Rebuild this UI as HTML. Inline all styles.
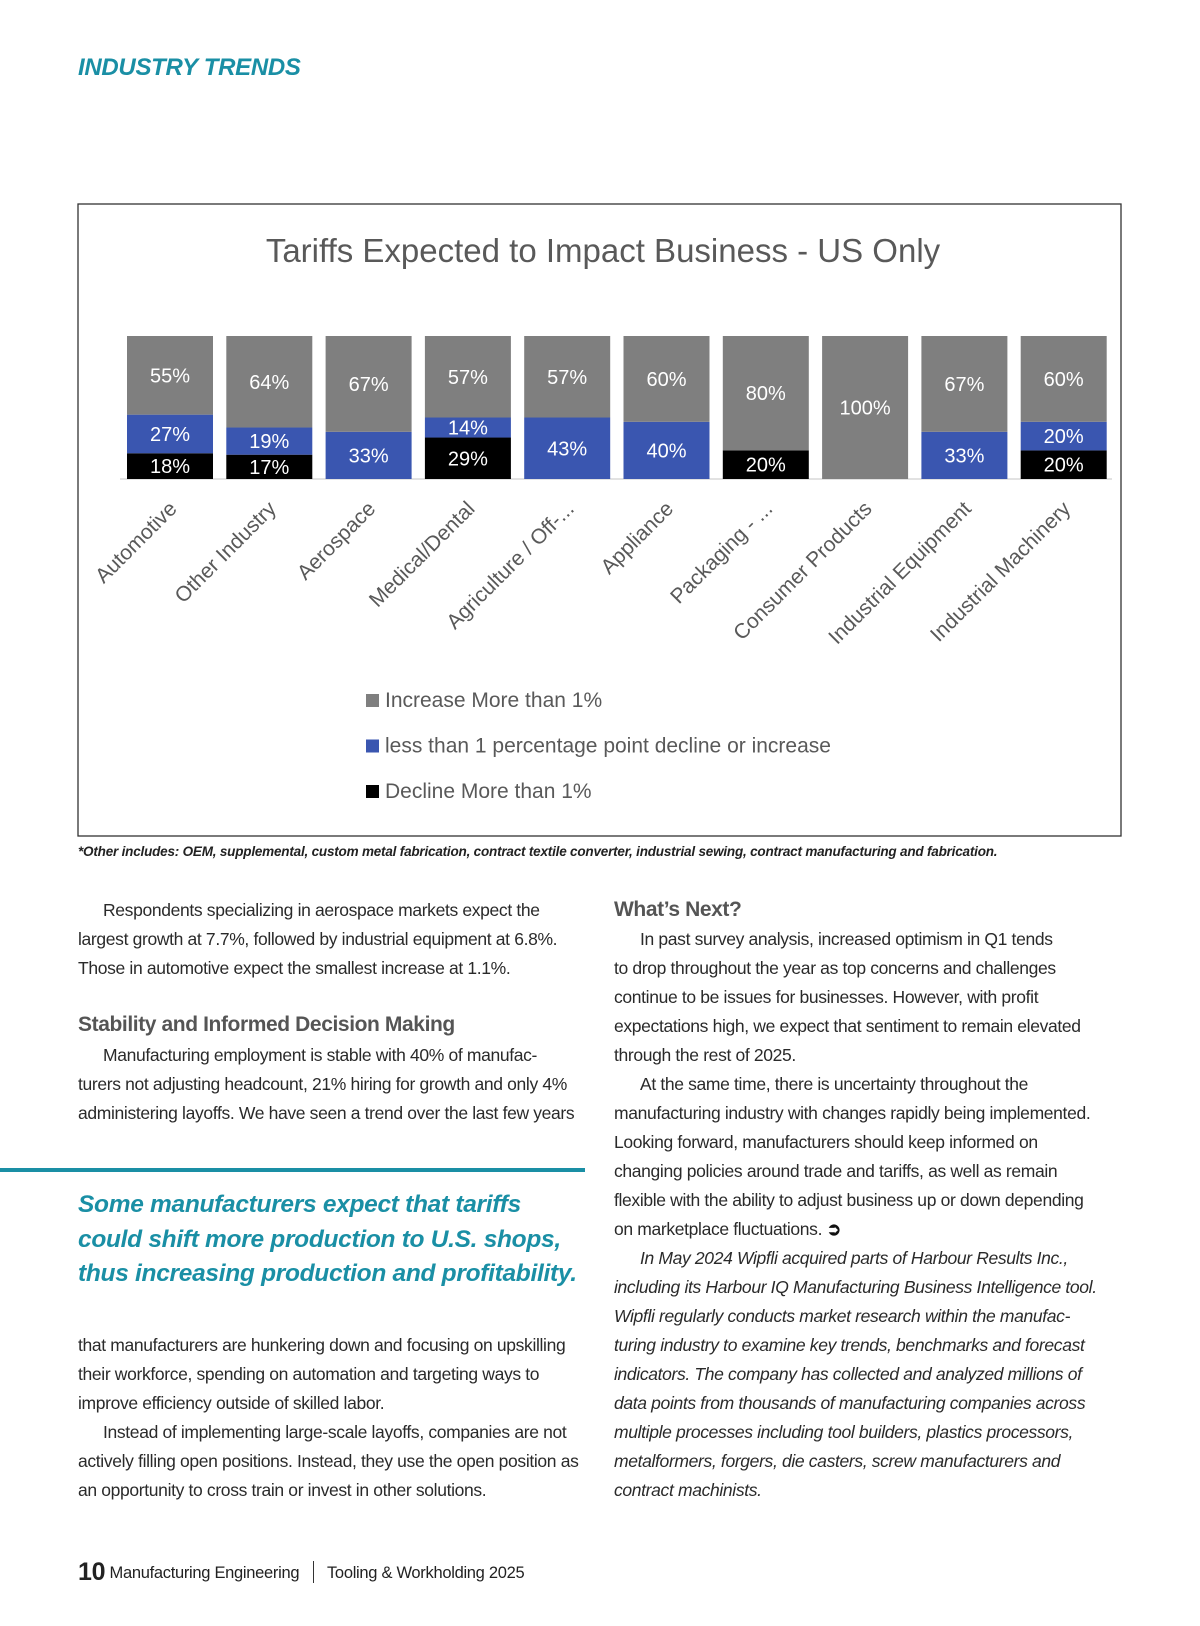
<!DOCTYPE html>
<html><head><meta charset="utf-8"><style>
body{margin:0;width:1200px;height:1626px;position:relative;background:#fff;font-family:"Liberation Sans",sans-serif;overflow:hidden}
.ab{position:absolute;white-space:nowrap}
.t{font-size:17.5px;color:#2a2a2a;letter-spacing:-0.35px}
.it{font-style:italic}
.h{font-size:21px;font-weight:bold;color:#555;letter-spacing:-0.4px}
.pq{font-size:24.5px;font-weight:bold;font-style:italic;color:#1a8fa5;letter-spacing:-0.3px}
</style></head><body>
<div class="ab" style="left:78px;top:54px;font-size:24px;font-weight:bold;font-style:italic;color:#1a8fa5;letter-spacing:-0.3px">INDUSTRY TRENDS</div>

<svg class="ab" style="left:0;top:0" width="1200" height="880" id="chart">
<rect x="78" y="204" width="1043" height="632" fill="#fff" stroke="#333" stroke-width="1.3"/>
<text x="603" y="262" text-anchor="middle" font-size="33" fill="#595959" font-family="Liberation Sans, sans-serif">Tariffs Expected to Impact Business - US Only</text>
<line x1="120" y1="479" x2="1112" y2="479" stroke="#d9d9d9" stroke-width="1.5"/>
<g id="bars"></g>
<g id="legend"></g>
</svg>

<div class="ab" style="left:78px;top:844px;font-size:13.5px;font-weight:bold;font-style:italic;color:#222;letter-spacing:-0.2px">*Other includes: OEM, supplemental, custom metal fabrication, contract textile converter, industrial sewing, contract manufacturing and fabrication.</div>

<div>
<div class="ab t" style="left:103px;top:900px">Respondents specializing in aerospace markets expect the</div>
<div class="ab t" style="left:78px;top:929px">largest growth at 7.7%, followed by industrial equipment at 6.8%.</div>
<div class="ab t" style="left:78px;top:958px">Those in automotive expect the smallest increase at 1.1%.</div>
<div class="ab h" style="left:78px;top:1013px">Stability and Informed Decision Making</div>
<div class="ab t" style="left:103px;top:1045px">Manufacturing employment is stable with 40% of manufac-</div>
<div class="ab t" style="left:78px;top:1074px">turers not adjusting headcount, 21% hiring for growth and only 4%</div>
<div class="ab t" style="left:78px;top:1103px">administering layoffs. We have seen a trend over the last few years</div>
<div class="ab" style="left:0;top:1168px;width:585px;height:4px;background:#1a8fa5"></div>
<div class="ab pq" style="left:78px;top:1188px;line-height:34.5px">Some manufacturers expect that tariffs<br>could shift more production to U.S. shops,<br>thus increasing production and profitability.</div>
<div class="ab t" style="left:78px;top:1335px">that manufacturers are hunkering down and focusing on upskilling</div>
<div class="ab t" style="left:78px;top:1364px">their workforce, spending on automation and targeting ways to</div>
<div class="ab t" style="left:78px;top:1393px">improve efficiency outside of skilled labor.</div>
<div class="ab t" style="left:103px;top:1422px">Instead of implementing large-scale layoffs, companies are not</div>
<div class="ab t" style="left:78px;top:1451px">actively filling open positions. Instead, they use the open position as</div>
<div class="ab t" style="left:78px;top:1480px">an opportunity to cross train or invest in other solutions.</div>
</div>

<div>
<div class="ab h" style="left:614px;top:898px">What’s Next?</div>
<div class="ab t" style="left:640px;top:929px">In past survey analysis, increased optimism in Q1 tends</div>
<div class="ab t" style="left:614px;top:958px">to drop throughout the year as top concerns and challenges</div>
<div class="ab t" style="left:614px;top:987px">continue to be issues for businesses. However, with profit</div>
<div class="ab t" style="left:614px;top:1016px">expectations high, we expect that sentiment to remain elevated</div>
<div class="ab t" style="left:614px;top:1045px">through the rest of 2025.</div>
<div class="ab t" style="left:640px;top:1074px">At the same time, there is uncertainty throughout the</div>
<div class="ab t" style="left:614px;top:1103px">manufacturing industry with changes rapidly being implemented.</div>
<div class="ab t" style="left:614px;top:1132px">Looking forward, manufacturers should keep informed on</div>
<div class="ab t" style="left:614px;top:1161px">changing policies around trade and tariffs, as well as remain</div>
<div class="ab t" style="left:614px;top:1190px">flexible with the ability to adjust business up or down depending</div>
<div class="ab t" style="left:614px;top:1219px">on marketplace fluctuations. <b style="color:#111">➲</b></div>
<div class="ab t it" style="left:640px;top:1248px">In May 2024 Wipfli acquired parts of Harbour Results Inc.,</div>
<div class="ab t it" style="left:614px;top:1277px">including its Harbour IQ Manufacturing Business Intelligence tool.</div>
<div class="ab t it" style="left:614px;top:1306px">Wipfli regularly conducts market research within the manufac-</div>
<div class="ab t it" style="left:614px;top:1335px">turing industry to examine key trends, benchmarks and forecast</div>
<div class="ab t it" style="left:614px;top:1364px">indicators. The company has collected and analyzed millions of</div>
<div class="ab t it" style="left:614px;top:1393px">data points from thousands of manufacturing companies across</div>
<div class="ab t it" style="left:614px;top:1422px">multiple processes including tool builders, plastics processors,</div>
<div class="ab t it" style="left:614px;top:1451px">metalformers, forgers, die casters, screw manufacturers and</div>
<div class="ab t it" style="left:614px;top:1480px">contract machinists.</div>
</div>

<div class="ab" style="left:78px;top:1558px;font-size:16.5px;color:#222;letter-spacing:-0.3px"><b style="font-size:25px;vertical-align:-2px">10</b> Manufacturing Engineering <span style="display:inline-block;width:1.5px;height:22px;background:#333;vertical-align:-5px;margin:0 9px"></span> Tooling &amp; Workholding 2025</div>

<script>
const categories=["Automotive","Other Industry","Aerospace","Medical/Dental","Agriculture / Off-...","Appliance","Packaging - ...","Consumer Products","Industrial Equipment","Industrial Machinery"];
const increaseVals=[55,64,67,57,57,60,80,100,67,60];
const neutralVals=[27,19,33,14,43,40,0,0,33,20];
const declineVals=[18,17,0,29,0,0,20,0,0,20];
const seriesNames=["Increase More than 1%","less than 1 percentage point decline or increase","Decline More than 1%"];
const colors=["#7f7f7f","#3a56b0","#000000"];
const NS="http://www.w3.org/2000/svg";
const x0=127,pitch=99.3,bw=86,yBase=479,yTop=336;
const xPos=i=>x0+i*pitch;
const yScale=v=>(yBase-yTop)*v/100;
const g=document.getElementById('bars');
function mk(t,a,p){const e=document.createElementNS(NS,t);for(const k in a)e.setAttribute(k,a[k]);(p||g).appendChild(e);return e;}
categories.forEach((c,i)=>{
  const x=xPos(i);let y=yBase;
  const segs=[[declineVals[i],2,'decline'],[neutralVals[i],1,'neutral'],[increaseVals[i],0,'increase']];
  segs.forEach(([v,ci,nm])=>{
    if(!v)return;const h=yScale(v);y-=h;
    const r=mk('rect',{x:x,y:y,width:bw,height:h,fill:colors[ci]});
    
    
    const t=mk('text',{x:x+bw/2,y:y+h/2+7,'text-anchor':'middle','font-size':20,fill:'#fff','font-family':'Liberation Sans, sans-serif'});
    t.textContent=v+'%';
    
    
  });
  const lx=x+bw/2+8,ly=510;
  const l=mk('text',{x:lx,y:ly,'text-anchor':'end','font-size':21,fill:'#595959','font-family':'Liberation Sans, sans-serif',transform:`rotate(-45 ${lx} ${ly})`});
  l.textContent=c;
  
  
});
const lg=document.getElementById('legend');
seriesNames.forEach((s,i)=>{
  const y=700+i*45.5;
  const r=mk('rect',{x:366,y:y-6,width:13,height:13,fill:colors[i]},lg);
  
  
  const t=mk('text',{x:385,y:y+7,'font-size':21,fill:'#595959','font-family':'Liberation Sans, sans-serif'},lg);
  t.textContent=s;
  
  
});
</script>
</body></html>
